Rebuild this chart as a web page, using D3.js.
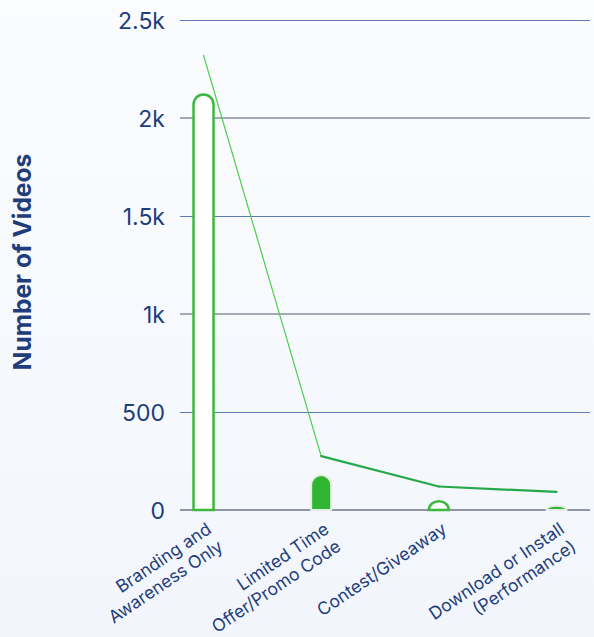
<!DOCTYPE html>
<html>
<head>
<meta charset="utf-8">
<script src="https://cdn.jsdelivr.net/npm/d3@7"></script>
<style>
  html, body { margin: 0; padding: 0; }
  body { width: 594px; height: 637px; overflow: hidden; }
  svg { display: block; font-family: Inter, Lato, sans-serif; }
</style>
</head>
<body>
<svg id="chart" width="594" height="637"></svg>
<script>
// Video counts by call-to-action type
const categories = ["branding", "limited", "contest", "download"];
const categoryLabels = [
  ["Branding and", "Awareness Only"],
  ["Limited Time", "Offer/Promo Code"],
  ["Contest/Giveaway"],
  ["Download or Install", "(Performance)"]
];
const barValues = [2120, 178, 45, 22];
const lineValues = [2320, 275, 120, 92];
const yTicks = [0, 500, 1000, 1500, 2000, 2500];
const yTickLabels = ["0", "500", "1k", "1.5k", "2k", "2.5k"];

const W = 594, H = 637;
const plotLeft = 180, plotRight = 590, plotTop = 20, plotBottom = 510;
const navy = "#1f3d7a";
const green = "#2fb52f";

const svg = d3.select("#chart");

// soft page background
const defs = svg.append("defs");
const bg = defs.append("linearGradient").attr("id", "bg")
  .attr("x1", 0).attr("y1", 0).attr("x2", 0).attr("y2", 1);
bg.append("stop").attr("offset", 0).attr("stop-color", "#fbfcfe");
bg.append("stop").attr("offset", 1).attr("stop-color", "#f2f6fc");
svg.append("rect").attr("width", W).attr("height", H).attr("fill", "url(#bg)");

const x = d3.scalePoint().domain(categories).range([plotLeft, 580]).padding(0.2);
const y = d3.scaleLinear().domain([0, 2500]).range([plotBottom, plotTop]);

// horizontal grid
const grid = svg.append("g");
yTicks.forEach((t, i) => {
  const crisp = i % 2 === 1;
  const yy = crisp ? Math.round(y(t)) + 0.5 : y(t);
  grid.append("line")
    .attr("x1", plotLeft).attr("x2", plotRight)
    .attr("y1", yy).attr("y2", yy)
    .attr("stroke", crisp ? "#5b7ab6" : (i === 0 ? "#8d95a6" : "#a3a9b6"))
    .attr("stroke-width", crisp ? 1 : (i === 5 ? 1.5 : 2));
});

// y tick labels
const yAxis = d3.axisLeft(y).tickValues(yTicks)
  .tickFormat((d, i) => yTickLabels[i]).tickSize(0).tickPadding(0);
const yg = svg.append("g").attr("transform", `translate(165,0)`).call(yAxis);
yg.select(".domain").remove();
yg.selectAll("text")
  .attr("fill", navy)
  .attr("font-size", 23)
  .attr("font-family", "Inter, Lato, sans-serif")
  .attr("dy", "0.36em");

// y axis title
svg.append("text")
  .attr("transform", "translate(31,262) rotate(-90)")
  .attr("text-anchor", "middle")
  .attr("fill", navy)
  .attr("font-size", 24.5)
  .attr("font-weight", 700)
  .text("Number of Videos");

// bars with rounded tops
const barW = 20;
function roundedBar(cx, v) {
  const x0 = cx - barW / 2, yb = y(0), yt = y(v);
  const r = barW / 2, ry = Math.min(r, yb - yt);
  return `M${x0},${yb}V${yt + ry}A${r},${ry} 0 0 1 ${x0 + barW},${yt + ry}V${yb}Z`;
}
svg.append("g").selectAll("path")
  .data(barValues)
  .join("path")
  .attr("d", (d, i) => roundedBar(x(categories[i]), d))
  .attr("fill", (d, i) => i % 2 === 0 ? "#ffffff" : green)
  .attr("stroke", (d, i) => i % 2 === 0 ? "#3cb93c" : "#e4eee6")
  .attr("stroke-width", (d, i) => i % 2 === 0 ? 2.5 : 2);

// trend line, one segment per pair of categories
const pts = lineValues.map((v, i) => [x(categories[i]), y(v)]);
const seg = svg.append("g").attr("fill", "none").attr("stroke-linecap", "round");
d3.pairs(pts).forEach(([a, b], i) => {
  seg.append("path")
    .attr("d", d3.line()([a, b]))
    .attr("stroke", i === 0 ? "#4fcd4f" : "#27a84a")
    .attr("stroke-width", i === 0 ? 1.2 : 2.2);
});

// rotated category labels
const lab = svg.append("g").attr("fill", navy).attr("font-size", 17.5);
categoryLabels.forEach((lines, i) => {
  const t = lab.append("text")
    .attr("text-anchor", "end")
    .attr("transform", `translate(${x(categories[i]) + 9},532) rotate(-34)`);
  lines.forEach((s, j) => {
    t.append("tspan").attr("x", 0).attr("dy", j === 0 ? 0 : "1.2em").text(s);
  });
});
</script>
</body>
</html>
